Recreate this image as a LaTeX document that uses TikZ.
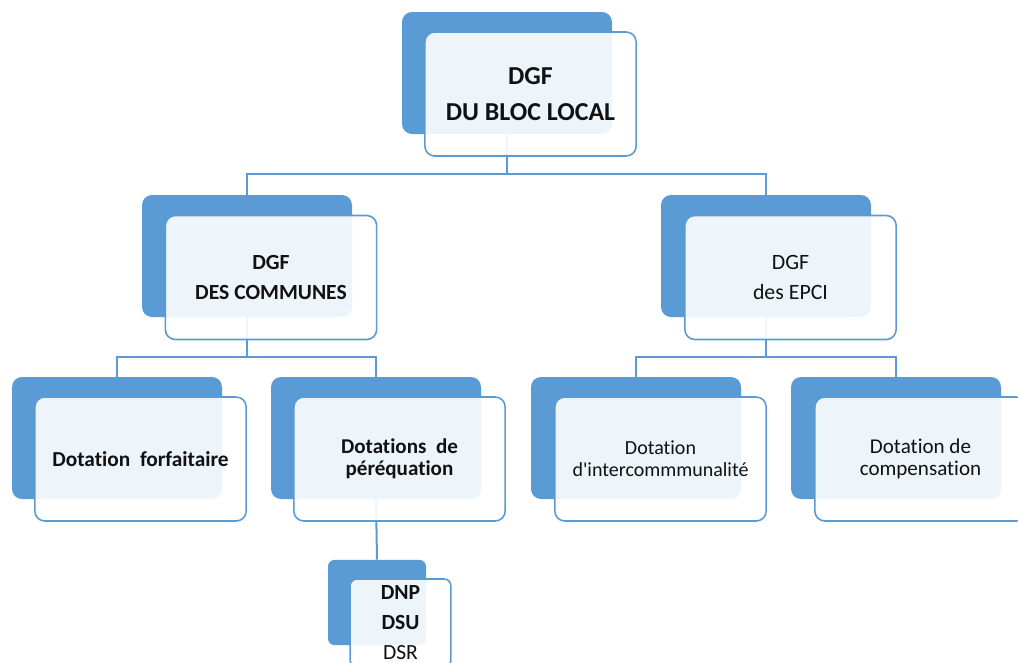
\documentclass[tikz,border=0pt]{standalone}
\usepackage{fontspec}
\setmainfont{Carlito}[Ligatures={NoCommon}]
\definecolor{cblue}{HTML}{5B9BD5}
\definecolor{ctext}{HTML}{111111}
\tikzset{
  back/.style={fill=cblue, draw=none, rounded corners=7.5pt, minimum width=157.5pt, minimum height=91.5pt, inner sep=0pt},
  front/.style={fill=white, fill opacity=0.9, text opacity=1, draw=cblue, line width=1.2pt, rounded corners=7.5pt, minimum width=158.5pt, minimum height=93pt, inner sep=0pt, align=center, text=ctext},
  sback/.style={back, minimum width=73.5pt, minimum height=64pt, rounded corners=5pt},
  sfront/.style={front, minimum width=75.5pt, minimum height=66pt, rounded corners=5pt},
  conn/.style={draw=cblue, line width=1.5pt},
}
\begin{document}
\begin{tikzpicture}[x=0.75pt,y=-0.75pt]
\useasboundingbox[fill=white] (0,0) rectangle (1018,662);
% junctions
\coordinate (j1) at (507,174);
\coordinate (j2) at (247,357);
\coordinate (j3) at (766,357);
% back boxes
\node[back] (tb) at (507,73) {};
\node[back] (mlb) at (247,256) {};
\node[back] (mrb) at (766,256) {};
\node[back] (b1b) at (117,438) {};
\node[back] (b2b) at (376,438) {};
\node[back] (b3b) at (636,438) {};
\node[back] (b4b) at (896,438) {};
\node[sback] (sb) at (377,602.5) {};
% connectors
\draw[conn] (tb.south) -- (j1) -| (mlb.north);
\draw[conn] (j1) -| (mrb.north);
\draw[conn] (mlb.south) -- (j2) -| (b1b.north);
\draw[conn] (j2) -| (b2b.north);
\draw[conn] (mrb.south) -- (j3) -| (b3b.north);
\draw[conn] (j3) -| (b4b.north);
\draw[conn] (b2b.south) -- (sb.north);
% front boxes
\node[front, font=\bfseries\fontsize{19.4}{27}\selectfont] (tf) at (530.5,94) {DGF\\DU BLOC LOCAL};
\node[front, font=\bfseries\fontsize{16.2}{22.5}\selectfont] (mlf) at (271,277.5) {DGF\\DES COMMUNES};
\node[front, font=\fontsize{16.4}{22.5}\selectfont] (mrf) at (790.5,277.5) {DGF\\des EPCI};
\node[front, font=\bfseries\fontsize{16}{16.5}\selectfont] (b1f) at (140.5,459) {Dotation\ \ forfaitaire};
\node[front, font=\bfseries\fontsize{15.8}{16.5}\selectfont] (b2f) at (399.5,459) {Dotations\ \ de\\péréquation};
\node[front, font=\fontsize{15}{16.5}\selectfont] (b3f) at (660.5,459) {Dotation\\d\textquotesingle intercommmunalité};
\node[front, font=\fontsize{15.8}{16.5}\selectfont] (b4f) at (920.5,459) {Dotation de\\compensation};
\node[sfront, font=\fontsize{16.2}{22.5}\selectfont] (sf) at (400.5,623) {\textbf{DNP}\\\textbf{DSU}\\DSR};
\end{tikzpicture}
\end{document}
